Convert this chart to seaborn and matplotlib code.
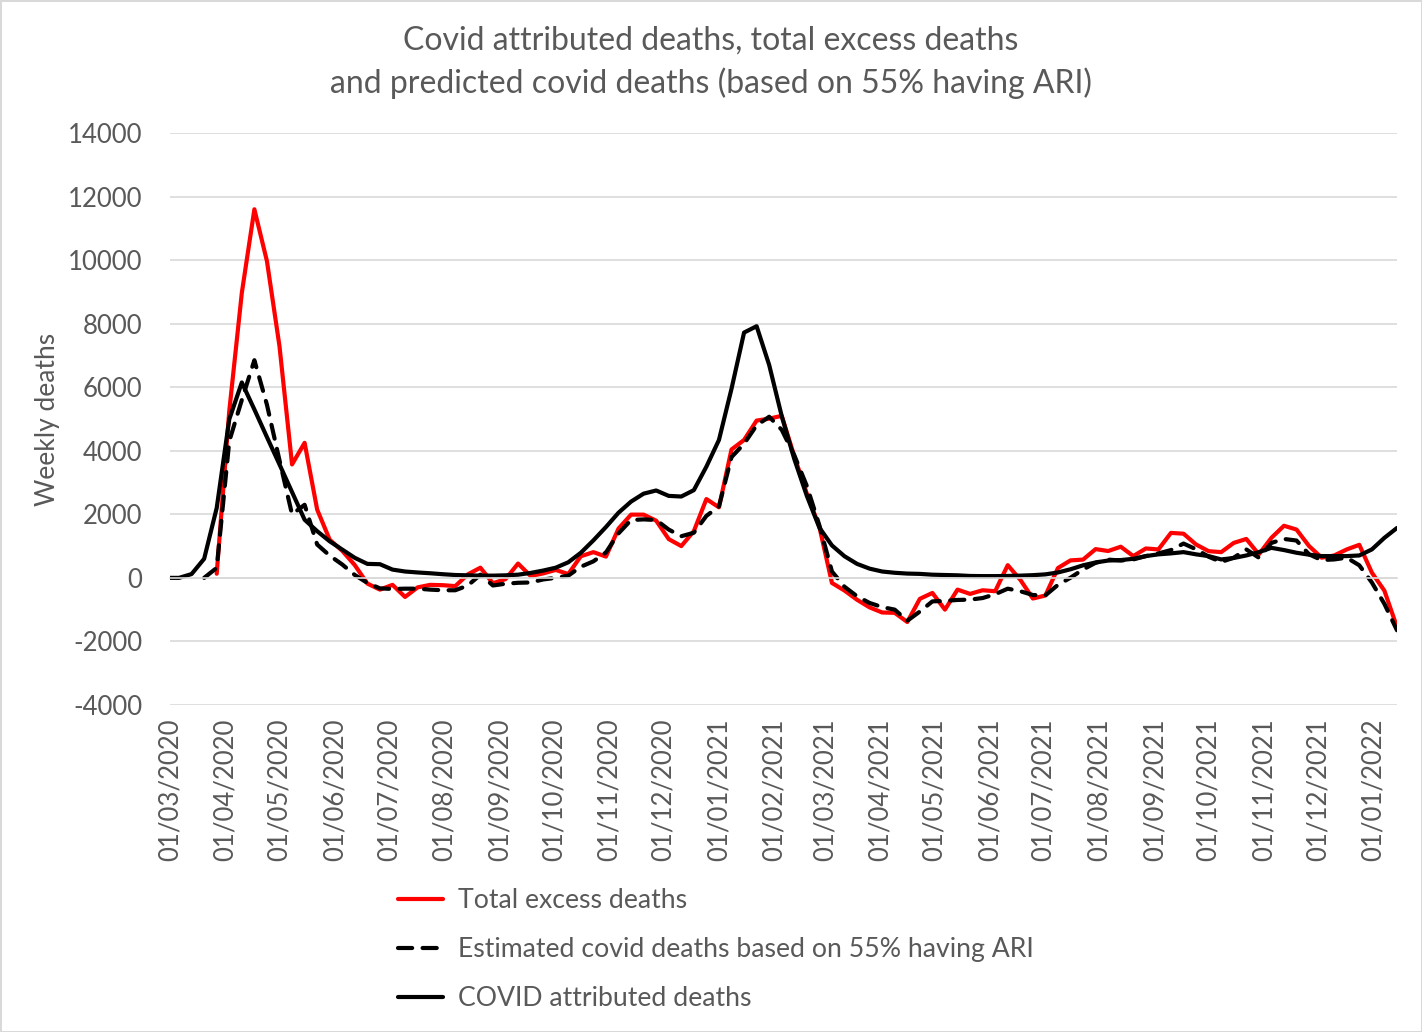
import numpy as np
import pandas as pd
import matplotlib
matplotlib.use("Agg")
import matplotlib.pyplot as plt
import matplotlib.dates as mdates
import seaborn as sns

# Weekly series (week ending Fridays)
first_week = "2020-02-28"

total_excess = [
    np.nan, np.nan, np.nan, np.nan, 130, 5250, 8970, 11600, 9970, 7290,
    3570, 4250, 2150, 1200, 850, 400, -180, -370, -220, -600,
    -300, -220, -230, -260, 110, 320, -170, -40, 450, 60,
    140, 250, 120, 680, 810, 670, 1550, 1990, 1990, 1800,
    1220, 1000, 1470, 2480, 2220, 4040, 4340, 4950, 5010, 5100,
    3830, 2650, 1600, -160, -400, -690, -930, -1090, -1100, -1390,
    -660, -475, -1000, -370, -505, -390, -420, 400, -60, -650,
    -555, 310, 550, 575, 905, 845, 980, 685, 925, 895,
    1415, 1390, 1050, 840, 810, 1100, 1225, 740, 1260, 1640,
    1520, 1000, 635, 705, 895, 1040, 165, -405, -1550,
]

estimated_55pct_ari = [
    np.nan, np.nan, np.nan, 0, 315, 4300, 5600, 6850, 5450, 3700,
    2000, 2300, 1050, 700, 420, 90, -160, -330, -350, -340,
    -340, -370, -390, -390, -240, 100, -240, -185, -155, -145,
    -50, 0, 70, 350, 520, 800, 1400, 1820, 1840, 1820,
    1520, 1310, 1420, 1950, 2250, 3800, 4220, 4800, 5070, 4660,
    3860, 2890, 1650, 200, -280, -580, -790, -920, -1000, -1350,
    -1060, -740, -725, -695, -685, -635, -515, -340, -420, -540,
    -550, -220, 5, 265, 475, 575, 545, 580, 685, 770,
    875, 1080, 900, 665, 500, 635, 895, 635, 1100, 1225,
    1175, 740, 560, 580, 635, 395, -145, -820, -1650,
]

covid_attributed = [
    0, 0, 120, 600, 2200, 4990, 6150, 5300, 4430, 3570,
    2700, 1830, 1470, 1150, 890, 630, 440, 430, 260, 200,
    170, 145, 115, 90, 80, 70, 70, 80, 100, 155,
    230, 320, 490, 790, 1180, 1600, 2050, 2400, 2650, 2750,
    2580, 2560, 2760, 3500, 4340, 5950, 7720, 7920, 6700, 5090,
    3740, 2580, 1580, 1020, 680, 440, 290, 200, 160, 135,
    125, 100, 90, 80, 60, 55, 55, 60, 70, 85,
    110, 170, 270, 395, 485, 545, 560, 600, 685, 740,
    770, 810, 740, 685, 580, 625, 705, 810, 945, 875,
    790, 730, 685, 685, 685, 705, 895, 1260, 1570,
]

series_labels = [
    "Total excess deaths",
    "Estimated covid deaths based on 55% having ARI",
    "COVID attributed deaths",
]

weeks = pd.date_range(first_week, periods=len(covid_attributed), freq="7D")
df = pd.DataFrame({
    "week": weeks,
    "excess": total_excess,
    "estimated": estimated_55pct_ari,
    "covid": covid_attributed,
})

GREY_TEXT = "#595959"
GRID = "#d9d9d9"

sns.set_theme(style="white")
plt.rcParams["font.family"] = ["Lato", "DejaVu Sans"]
plt.rcParams["axes.unicode_minus"] = False

fig, ax = plt.subplots(figsize=(14.22, 10.32), dpi=100)
fig.subplots_adjust(left=0.1196, right=0.9824, bottom=0.3169, top=0.8711)

sns.lineplot(data=df, x="week", y="excess", color="#ff0000", linewidth=3.0,
             label=series_labels[0], ax=ax)
sns.lineplot(data=df, x="week", y="estimated", color="black", linewidth=3.0,
             linestyle=(0, (3.4, 2.5)), dash_capstyle="round",
             label=series_labels[1], ax=ax)
sns.lineplot(data=df, x="week", y="covid", color="black", linewidth=3.0,
             label=series_labels[2], ax=ax)

# y axis
ax.set_ylim(-4000, 14000)
ax.set_yticks(np.arange(-4000, 14001, 2000))
ax.yaxis.grid(True, color=GRID, linewidth=1.2)
ax.xaxis.grid(False)
ax.set_axisbelow(True)
ax.tick_params(axis="y", length=0, pad=20, labelsize=18.5, labelcolor=GREY_TEXT)
ax.set_ylabel("Weekly deaths", fontsize=19, color=GREY_TEXT)
ax.yaxis.set_label_coords(-0.09, 0.5)

# x axis: line sits at zero, labels at the bottom
ax.set_xlim(pd.Timestamp("2020-03-01"), pd.Timestamp("2022-01-14"))
ax.xaxis.set_major_locator(mdates.MonthLocator())
ax.xaxis.set_major_formatter(mdates.DateFormatter("%d/%m/%Y"))
ax.tick_params(axis="x", length=5, width=1.2, color=GRID, pad=96,
               labelsize=18.5, labelcolor=GREY_TEXT, labelrotation=90)
ax.set_xlabel("")

for side in ["left", "right", "top"]:
    ax.spines[side].set_visible(False)
ax.spines["bottom"].set_position(("data", 0))
ax.spines["bottom"].set_color(GRID)
ax.spines["bottom"].set_linewidth(1.2)

fig.text(0.5, 0.975,
         "Covid attributed deaths, total excess deaths\n"
         "and predicted covid deaths (based on 55% having ARI)",
         ha="center", va="top", fontsize=23, color=GREY_TEXT, linespacing=1.45)

handles, labels = ax.get_legend_handles_labels()
ax.get_legend().remove()
fig.legend(handles, labels, loc="center left", bbox_to_anchor=(0.28, 0.0798),
           frameon=False, fontsize=19.2, handlelength=1.7, handletextpad=0.55,
           labelspacing=0.89, borderpad=0, borderaxespad=0,
           labelcolor=GREY_TEXT)

fig.patch.set_edgecolor(GRID)
fig.patch.set_linewidth(2)
fig.savefig("out.png", dpi=100, edgecolor=fig.get_edgecolor())
